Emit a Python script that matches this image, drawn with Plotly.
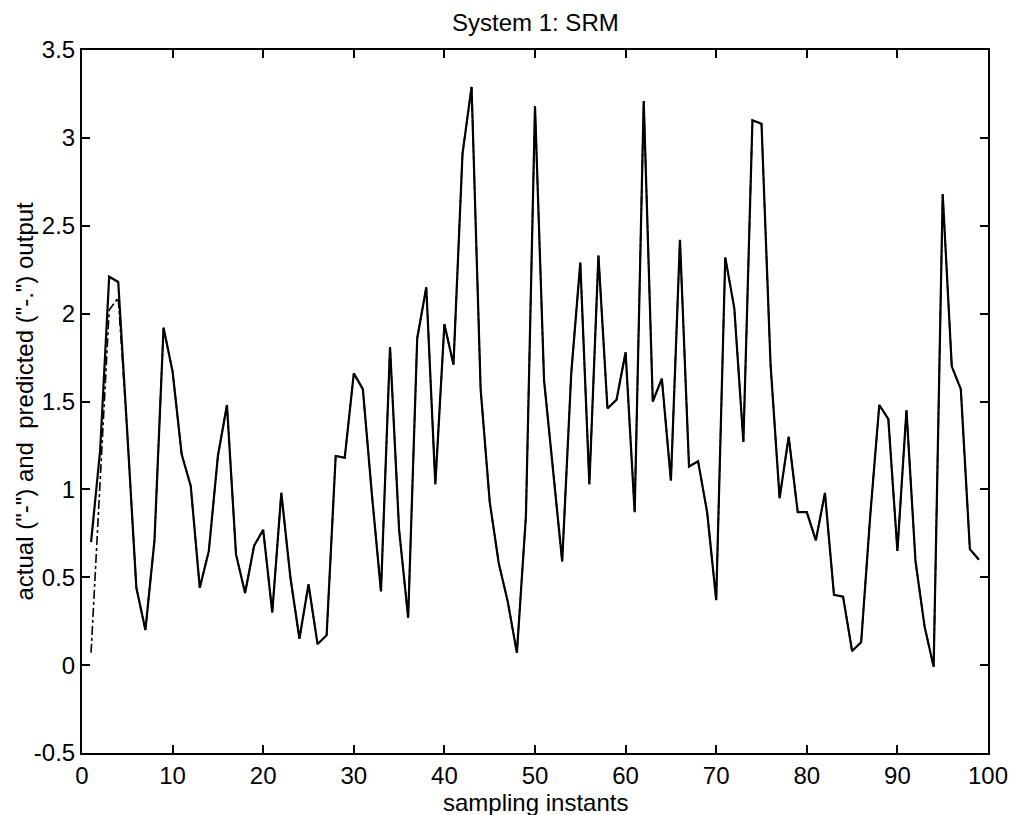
import plotly.graph_objects as go

# ---- data ----
samples = list(range(1, 100))

actual = [
    0.70, 1.22, 2.21, 2.18, 1.32, 0.44, 0.20, 0.71, 1.92, 1.67,
    1.20, 1.02, 0.44, 0.65, 1.19, 1.48, 0.63, 0.41, 0.68, 0.77,
    0.30, 0.98, 0.50, 0.15, 0.46, 0.12, 0.17, 1.19, 1.18, 1.66,
    1.57, 0.97, 0.42, 1.81, 0.77, 0.27, 1.86, 2.15, 1.03, 1.94,
    1.71, 2.91, 3.29, 1.57, 0.93, 0.58, 0.36, 0.07, 0.85, 3.18,
    1.62, 1.11, 0.59, 1.66, 2.29, 1.03, 2.33, 1.46, 1.51, 1.78,
    0.87, 3.21, 1.50, 1.63, 1.05, 2.42, 1.13, 1.16, 0.87, 0.37,
    2.32, 2.03, 1.27, 3.10, 3.08, 1.71, 0.95, 1.30, 0.87, 0.87,
    0.71, 0.98, 0.40, 0.39, 0.08, 0.13, 0.85, 1.48, 1.40, 0.65,
    1.45, 0.59, 0.22, -0.01, 2.68, 1.70, 1.57, 0.66, 0.60,
]

predicted = [
    0.07, 1.04, 2.02, 2.09, 1.32, 0.44, 0.20, 0.71, 1.92, 1.67,
    1.20, 1.02, 0.44, 0.65, 1.19, 1.48, 0.63, 0.41, 0.68, 0.77,
    0.30, 0.98, 0.50, 0.15, 0.46, 0.12, 0.17, 1.19, 1.18, 1.66,
    1.57, 0.97, 0.42, 1.81, 0.77, 0.27, 1.86, 2.15, 1.03, 1.94,
    1.71, 2.91, 3.29, 1.57, 0.93, 0.58, 0.36, 0.07, 0.85, 3.18,
    1.62, 1.11, 0.59, 1.66, 2.29, 1.03, 2.33, 1.46, 1.51, 1.78,
    0.87, 3.21, 1.50, 1.63, 1.05, 2.42, 1.13, 1.16, 0.87, 0.37,
    2.32, 2.03, 1.27, 3.10, 3.08, 1.71, 0.95, 1.30, 0.87, 0.87,
    0.71, 0.98, 0.40, 0.39, 0.08, 0.13, 0.85, 1.48, 1.40, 0.65,
    1.45, 0.59, 0.22, -0.01, 2.68, 1.70, 1.57, 0.66, 0.60,
]

x_tick_vals = [0, 10, 20, 30, 40, 50, 60, 70, 80, 90, 100]
x_tick_labels = ["0", "10", "20", "30", "40", "50", "60", "70", "80", "90", "100"]
y_tick_vals = [-0.5, 0, 0.5, 1, 1.5, 2, 2.5, 3, 3.5]
y_tick_labels = ["-0.5", "0", "0.5", "1", "1.5", "2", "2.5", "3", "3.5"]

title_text = "System 1: SRM"
x_label = "sampling instants"
y_label = 'actual ("-") and  predicted ("-.") output'

FONT = "Liberation Sans, Arial, Helvetica, sans-serif"

fig = go.Figure()
fig.add_trace(go.Scatter(
    x=samples, y=predicted, mode="lines",
    line=dict(color="black", width=1.6, dash="dashdot"),
    name="predicted", hoverinfo="x+y",
))
fig.add_trace(go.Scatter(
    x=samples, y=actual, mode="lines",
    line=dict(color="black", width=2.2),
    name="actual", hoverinfo="x+y",
))

axis_common = dict(
    showline=True, linecolor="black", linewidth=2,
    mirror="ticks", ticks="inside", ticklen=8, tickwidth=1.5, tickcolor="black",
    showgrid=False, zeroline=False, automargin=False,
    tickfont=dict(family=FONT, size=24, color="black"),
)

fig.update_xaxes(range=[0, 100], tickmode="array", tickvals=x_tick_vals,
                 ticktext=x_tick_labels, **axis_common)
fig.update_yaxes(range=[-0.5, 3.5], tickmode="array", tickvals=y_tick_vals,
                 ticktext=y_tick_labels, **axis_common)

fig.update_layout(
    width=1012, height=815,
    margin=dict(l=82, r=24, t=50, b=62),
    paper_bgcolor="white", plot_bgcolor="white",
    showlegend=False,
    font=dict(family=FONT, size=24, color="black"),
    annotations=[
        dict(text=title_text, xref="paper", yref="paper", x=0.5, y=1,
             xanchor="center", yanchor="middle", yshift=28, showarrow=False,
             font=dict(family=FONT, size=24, color="black")),
        dict(text=x_label, xref="paper", yref="paper", x=0.5, y=0,
             xanchor="center", yanchor="middle", yshift=-49, showarrow=False,
             font=dict(family=FONT, size=24, color="black")),
        dict(text=y_label, xref="paper", yref="paper", x=0, y=0.5,
             xanchor="center", yanchor="middle", xshift=-58, textangle=-90,
             showarrow=False,
             font=dict(family=FONT, size=24, color="black")),
    ],
)

# remove the default 8 px page margin so the figure fills the window exactly
page_fix = ("document.body.style.margin='0px';"
            "document.documentElement.style.overflow='hidden';")

fig.write_html("out.html", post_script=page_fix,
               config={"displayModeBar": False})
